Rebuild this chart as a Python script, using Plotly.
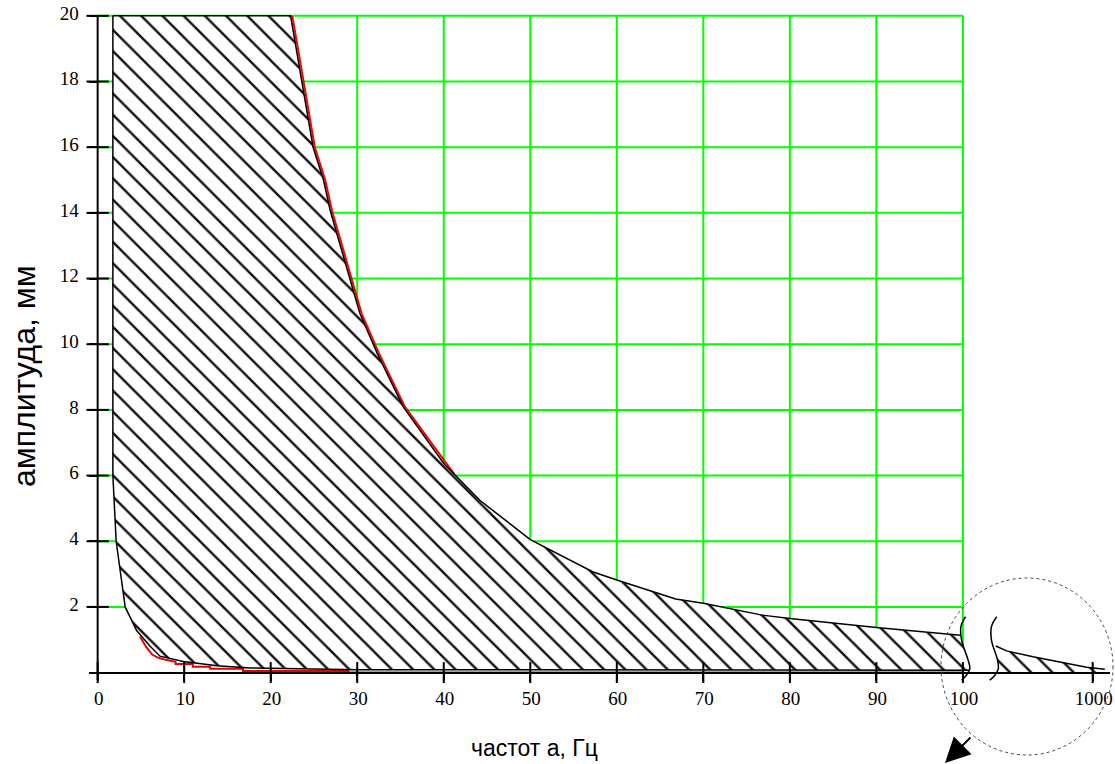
import plotly.graph_objects as go

# ---------------- data ----------------
x_tick_vals = [0, 10, 20, 30, 40, 50, 60, 70, 80, 90, 100, 115]
x_tick_text = ["0", "10", "20", "30", "40", "50", "60", "70", "80", "90", "100", "1000"]
y_tick_vals = [2, 4, 6, 8, 10, 12, 14, 16, 18, 20]
y_tick_text = ["2", "4", "6", "8", "10", "12", "14", "16", "18", "20"]
grid_x = [10, 20, 30, 40, 50, 60, 70, 80, 90, 100]
grid_y = [2, 4, 6, 8, 10, 12, 14, 16, 18, 20]

# upper (right) boundary of the zone, black
upper_x = [1.76, 22.3, 23.6, 24.9, 26.1, 26.9, 29.2, 30.3, 32.3, 35.3, 40.0, 44.2, 50.0,
           52.3, 57.2, 60.0, 66.8, 70.0, 76.8, 80.0, 90.0, 99.7]
upper_y = [20.0, 20.0, 18.0, 16.0, 15.0, 14.05, 11.95, 10.94, 9.73, 8.1, 6.37, 5.24, 4.05,
           3.73, 3.07, 2.82, 2.24, 2.11, 1.75, 1.65, 1.37, 1.14]
# lower (left) boundary of the zone, black
lower_x = [1.76, 1.72, 1.76, 2.14, 3.18, 4.5, 6.07, 7.2, 9.9, 13.8, 17.6, 30.0, 60.0, 100.8]
lower_y = [20.0, 10.0, 6.0, 4.0, 2.0, 1.28, 0.8, 0.5, 0.34, 0.21, 0.14, 0.09, 0.08, 0.07]
# red measured curves
red_up_x = [22.5, 23.8, 25.1, 26.3, 27.1, 29.4, 30.5, 32.5, 35.5, 40.3, 41.2]
red_up_y = [20.0, 18.0, 16.0, 15.0, 14.05, 11.95, 10.94, 9.73, 8.1, 6.37, 6.05]
red_lo_x = [4.9, 5.6, 6.3, 7.0, 8.0, 9.0, 9.0, 11.0, 11.0, 13.0, 13.0, 16.8, 16.8, 29.0, 29.0, 100.0]
red_lo_y = [1.1, 0.78, 0.55, 0.45, 0.38, 0.33, 0.26, 0.26, 0.18, 0.18, 0.12, 0.12, 0.05, 0.05, 0.0, 0.0]
# axis break symbols
brk1_x = [100.3, 99.77, 99.85, 100.6, 100.8, 100.4, 99.85]
brk1_y = [1.70, 1.40, 0.99, 0.38, 0.13, -0.08, -0.23]
brk2_x = [103.9, 103.3, 103.3, 104.0, 104.1, 103.7, 103.1]
brk2_y = [1.70, 1.40, 0.99, 0.38, 0.13, -0.08, -0.23]
# part beyond the break (100 ... 1000 Hz)
tail_x = [103.8, 105.05, 108.1, 112.0, 114.3, 116.4]
tail_y = [0.81, 0.66, 0.48, 0.28, 0.16, 0.10]

# ---------------- layout geometry ----------------
L, R, T, B = 89, 5, 6, 75
W, H = 1115, 764
PW, PH = W - L - R, H - T - B
XR = [-1.0, 117.0]
YR = [-0.5, 20.3]


def xpap(px):
    return (px - L) / PW


def ypap(py):
    return (H - B - py) / PH


GREEN = "#00ff00"
fig = go.Figure()

# grid (only inside 0..100 x 0..20)
for gx in grid_x:
    fig.add_shape(type="line", x0=gx, x1=gx, y0=0, y1=20, xref="x", yref="y",
                  line=dict(color=GREEN, width=2), layer="below")
for gy in grid_y:
    fig.add_shape(type="line", x0=0, x1=100, y0=gy, y1=gy, xref="x", yref="y",
                  line=dict(color=GREEN, width=2), layer="below")

pattern = dict(shape="\\", size=15, solidity=0.16, fgcolor="#111111", fgopacity=1, bgcolor="white")

# main hatched zone
zone_x = upper_x + [99.85, 100.6, 100.8] + lower_x[::-1]
zone_y = upper_y + [0.99, 0.38, 0.13] + lower_y[::-1]
fig.add_trace(go.Scatter(x=zone_x, y=zone_y, mode="lines", fill="toself",
                         fillpattern=pattern, fillcolor="white",
                         line=dict(width=0), hoverinfo="skip", showlegend=False))
# hatched tail zone
tz_x = tail_x + [116.4, 104.1, 104.0]
tz_y = tail_y + [0.0, 0.0, 0.38]
fig.add_trace(go.Scatter(x=tz_x, y=tz_y, mode="lines", fill="toself",
                         fillpattern=pattern, fillcolor="white",
                         line=dict(width=0), hoverinfo="skip", showlegend=False))

# red curves
fig.add_trace(go.Scatter(x=red_up_x, y=red_up_y, mode="lines",
                         line=dict(color="#ff0000", width=2), showlegend=False))
fig.add_trace(go.Scatter(x=red_lo_x, y=red_lo_y, mode="lines",
                         line=dict(color="#e80000", width=2), showlegend=False))

# black outlines
blk = dict(color="black", width=1.5)
fig.add_trace(go.Scatter(x=upper_x, y=upper_y, mode="lines", line=blk, showlegend=False))
fig.add_trace(go.Scatter(x=lower_x, y=lower_y, mode="lines", line=blk, showlegend=False))
fig.add_trace(go.Scatter(x=brk1_x, y=brk1_y, mode="lines", line_shape="spline", line=blk, showlegend=False))
fig.add_trace(go.Scatter(x=brk2_x, y=brk2_y, mode="lines", line_shape="spline", line=blk, showlegend=False))
fig.add_trace(go.Scatter(x=tail_x, y=tail_y, mode="lines", line=blk, showlegend=False))

# y axis line at x = 0
fig.add_shape(type="line", x0=0, x1=0, y0=-0.23, y1=20, xref="x", yref="y",
              line=dict(color="black", width=2))

# crossing tick marks
fig.add_trace(go.Scatter(x=[0] * len(y_tick_vals), y=y_tick_vals, mode="markers",
                         marker=dict(symbol="line-ew", size=16, line=dict(color="black", width=2)),
                         showlegend=False, hoverinfo="skip", cliponaxis=False))
fig.add_trace(go.Scatter(x=x_tick_vals, y=[0] * len(x_tick_vals), mode="markers",
                         marker=dict(symbol="line-ns", size=15, line=dict(color="black", width=2)),
                         showlegend=False, hoverinfo="skip", cliponaxis=False))

tickfont = dict(family="Liberation Serif", size=19, color="black")
fig.update_layout(
    width=W, height=H,
    margin=dict(l=L, r=R, t=T, b=B, autoexpand=False),
    paper_bgcolor="white", plot_bgcolor="white",
    xaxis=dict(range=XR, anchor="free", position=(0 - YR[0]) / (YR[1] - YR[0]),
               automargin=False,
               showgrid=False, zeroline=False, showline=True, linecolor="black", linewidth=2,
               tickmode="array", tickvals=x_tick_vals, ticktext=x_tick_text,
               ticks="outside", ticklen=7, tickwidth=2, tickcolor="black",
               ticklabelshift=1, ticklabelstandoff=2, tickfont=tickfont),
    yaxis=dict(range=YR, anchor="free", position=(0 - XR[0]) / (XR[1] - XR[0]),
               automargin=False,
               showgrid=False, zeroline=False, showline=False,
               tickmode="array", tickvals=y_tick_vals, ticktext=y_tick_text,
               ticks="outside", ticklen=9, tickwidth=2, tickcolor="black",
               ticklabelstandoff=6, ticklabelshift=-3, tickfont=tickfont),
)

fig.add_annotation(text="амплитуда, мм", x=xpap(24), y=ypap(376), xref="paper", yref="paper",
                   xanchor="center", yanchor="middle",
                   showarrow=False, textangle=-90,
                   font=dict(family="Liberation Sans", size=32, color="black"))
fig.add_annotation(text="частот а, Гц", x=xpap(534), y=ypap(748), xref="paper", yref="paper",
                   xanchor="center", yanchor="middle",
                   showarrow=False, font=dict(family="Liberation Sans", size=23, color="black"))

# dotted magnifier circle and arrow
fig.add_shape(type="circle", xref="paper", yref="paper",
              x0=xpap(941), x1=xpap(1113), y0=ypap(755), y1=ypap(578),
              line=dict(color="#444444", width=1, dash="dot"))
fig.add_annotation(x=xpap(945), y=ypap(766), xref="paper", yref="paper", text="",
                   showarrow=True, ax=27, ay=-30, arrowhead=2, arrowsize=2.5,
                   arrowwidth=2, arrowcolor="black")

fig.write_html("out.html",
               config={"displayModeBar": False},
               post_script="document.body.style.margin='0';document.body.style.overflow='hidden';"
                           "window.dispatchEvent(new Event('resize'));")
